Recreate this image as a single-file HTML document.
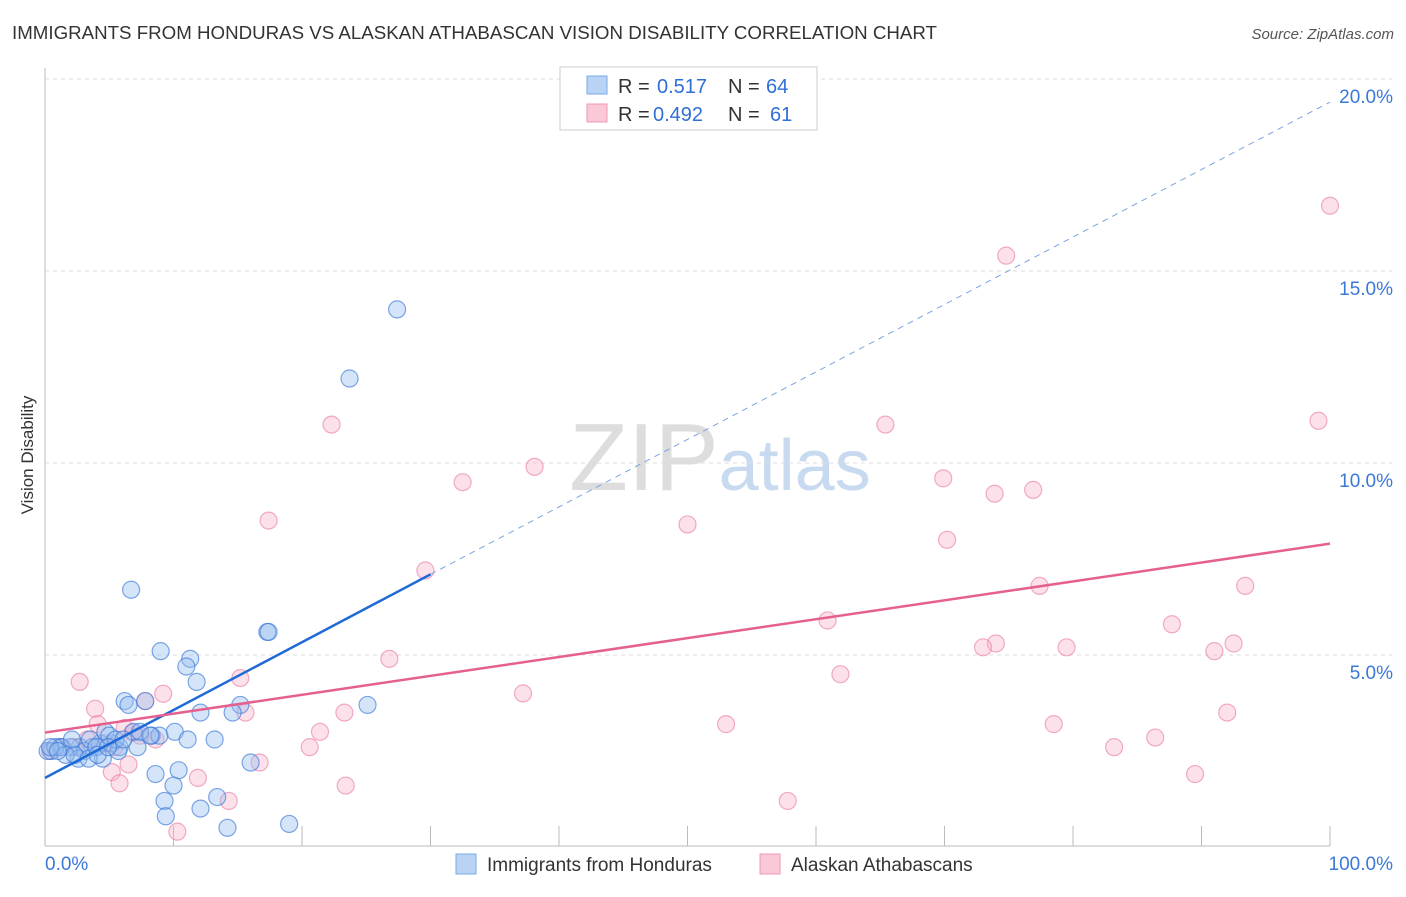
<!DOCTYPE html>
<html><head><meta charset="utf-8"><style>
body{margin:0;background:#fff;font-family:"Liberation Sans",sans-serif;}
svg text{font-family:"Liberation Sans",sans-serif;}
</style></head><body>
<svg width="1406" height="892" viewBox="0 0 1406 892">
<text x="12" y="39" font-size="18" fill="#333" textLength="925" lengthAdjust="spacingAndGlyphs">IMMIGRANTS FROM HONDURAS VS ALASKAN ATHABASCAN VISION DISABILITY CORRELATION CHART</text>
<text x="1394" y="39" font-size="15" fill="#555" font-style="italic" text-anchor="end">Source: ZipAtlas.com</text>
<text x="33" y="455" font-size="17" fill="#333" transform="rotate(-90 33 455)" text-anchor="middle">Vision Disability</text>
<text x="720" y="490" font-size="96" fill="#ddd" text-anchor="middle" font-family="Liberation Serif">ZIP<tspan fill="#c8daf0" font-family="Liberation Sans" font-size="72">atlas</tspan></text>
<g id="grid"></g><g id="pts"></g><g id="lines"></g>
<g>
<rect x="560" y="67" width="257" height="63" fill="#fff" stroke="#ccc"/>
<rect x="587" y="76" width="20" height="18" fill="#b9d3f5" stroke="#7aa9e8"/>
<rect x="587" y="104" width="20" height="18" fill="#fbc8d8" stroke="#ee9ab5"/>
<text y="93" font-size="20" fill="#333"><tspan x="618">R =</tspan><tspan x="657" fill="#2f6fd6">0.517</tspan><tspan x="728">N =</tspan><tspan x="766" fill="#2f6fd6">64</tspan></text>
<text y="121" font-size="20" fill="#333"><tspan x="618">R =</tspan><tspan x="653" fill="#2f6fd6">0.492</tspan><tspan x="728">N =</tspan><tspan x="770" fill="#2f6fd6">61</tspan></text>
</g>
<g>
<rect x="456" y="854" width="20" height="20" fill="#b9d3f5" stroke="#7aa9e8"/>
<text x="487" y="871" font-size="19" fill="#333">Immigrants from Honduras</text>
<rect x="760" y="854" width="20" height="20" fill="#fbc8d8" stroke="#ee9ab5"/>
<text x="791" y="871" font-size="19" fill="#333">Alaskan Athabascans</text>
</g>
</svg>
<script>
const yTicks=[5,10,15,20];
const xTickLabels=["0.0%","100.0%"];
const blueX=[6.7,9,11.3,11,11.8,6.2,7.8,6.5,15.2,12.1,14.6,25.1,10.1,6.9,8.3,11.1,13.2,5.2,5.8,7.2,4.3,3.7,2.7,2,1.2,0.5,0.2,3.1,2.6,4.5,5.7,16,8.6,10.4,10,9.3,13.4,12.1,9.4,14.2,19,17.3,17.4,23.7,27.4,1.3,0.8,1.6,2.3,3.5,4,4.7,5,5.5,6.1,7.4,8.9,0.4,1,3.4,2.1,4.1,8.2,4.9];
const blueY=[6.7,5.1,4.9,4.7,4.3,3.8,3.8,3.7,3.7,3.5,3.5,3.7,3,3,2.9,2.8,2.8,2.7,2.6,2.6,2.7,2.6,2.6,2.6,2.6,2.5,2.5,2.5,2.3,2.3,2.5,2.2,1.9,2,1.6,1.2,1.3,1,0.8,0.5,0.6,5.6,5.6,12.2,14,2.6,2.6,2.4,2.4,2.8,2.6,3,2.9,2.8,2.8,3,2.9,2.6,2.5,2.3,2.8,2.4,2.9,2.6];
const pinkX=[100,74.8,22.3,65.4,99.1,38.1,32.5,69.9,73.9,76.9,17.4,50,70.2,29.6,77.4,93.4,60.9,87.7,74,73,79.5,92.5,91,26.8,61.9,15.2,2.7,37.2,9.2,7.8,3.9,15.6,23.3,92,53,78.5,21.4,4.1,6.2,8.6,6.8,20.6,83.2,86.4,5.4,16.7,6.5,5.2,11.9,89.5,23.4,5.8,14.3,57.8,10.3,1.2,2.3,3.3,0.4,4.7,7.4];
const pinkY=[16.7,15.4,11,11,11.1,9.9,9.5,9.6,9.2,9.3,8.5,8.4,8,7.2,6.8,6.8,5.9,5.8,5.3,5.2,5.2,5.3,5.1,4.9,4.5,4.4,4.3,4,3.99,3.8,3.6,3.5,3.5,3.5,3.2,3.2,3,3.2,3.1,2.8,2.98,2.6,2.6,2.85,2.6,2.2,2.15,1.95,1.8,1.9,1.6,1.66,1.2,1.2,0.4,2.6,2.6,2.8,2.5,2.7,2.9];
const blueLine=[[0,1.8],[30,7.1]], blueDash=[[30,7.1],[100,19.4]];
const pinkLine=[[0,2.98],[100,7.9]];
const X=v=>45+v*12.85, Y=v=>847-v*38.4;
const NS="http://www.w3.org/2000/svg";
function mk(t,a,p){const e=document.createElementNS(NS,t);for(const k in a)e.setAttribute(k,a[k]);p.appendChild(e);return e;}
const g=document.getElementById('grid');
let ax=mk('line',{x1:45,y1:68,x2:45,y2:846,stroke:'#bbb'},g);


let bx=mk('line',{x1:45,y1:846,x2:1330,y2:846,stroke:'#bbb'},g);


yTicks.forEach(t=>{
 let l=mk('line',{x1:45,y1:Y(t),x2:1392,y2:Y(t),stroke:'#ddd','stroke-dasharray':'4,4'},g);
 
 
 let tx=mk('text',{x:1393,y:Y(t)+24,'font-size':19,fill:'#3b78d8','text-anchor':'end'},g);
 tx.textContent=t.toFixed(1)+'%';
 
 
});
for(let i=1;i<=10;i++){let l=mk('line',{x1:X(i*10),y1:826,x2:X(i*10),y2:846,stroke:'#bbb'},g);
 
 }
[[45,'start'],[1393,'end']].forEach((p,i)=>{let t=mk('text',{x:p[0],y:870,'font-size':19,fill:'#3b78d8','text-anchor':p[1]},g);t.textContent=xTickLabels[i];
 
 });
const pg=document.getElementById('pts');
pinkX.forEach((v,i)=>{let c=mk('circle',{cx:X(v),cy:Y(pinkY[i]),r:8.5,fill:'rgba(248,170,195,0.35)',stroke:'rgba(232,120,160,0.6)','stroke-width':1.2},pg);
 
 });
blueX.forEach((v,i)=>{let c=mk('circle',{cx:X(v),cy:Y(blueY[i]),r:8.5,fill:'rgba(150,190,240,0.4)',stroke:'rgba(60,120,215,0.65)','stroke-width':1.2},pg);
 
 });
const lg=document.getElementById('lines');
let l1=mk('line',{x1:X(blueDash[0][0]),y1:Y(blueDash[0][1]),x2:X(blueDash[1][0]),y2:Y(blueDash[1][1]),stroke:'#7aa5e0','stroke-width':1,'stroke-dasharray':'6,5'},lg);


let l2=mk('line',{x1:X(blueLine[0][0]),y1:Y(blueLine[0][1]),x2:X(blueLine[1][0]),y2:Y(blueLine[1][1]),stroke:'#1f6ad6','stroke-width':2.5},lg);


let l3=mk('line',{x1:X(pinkLine[0][0]),y1:Y(pinkLine[0][1]),x2:X(pinkLine[1][0]),y2:Y(pinkLine[1][1]),stroke:'#e5608f','stroke-width':2.5},lg);


</script>
</body></html>
